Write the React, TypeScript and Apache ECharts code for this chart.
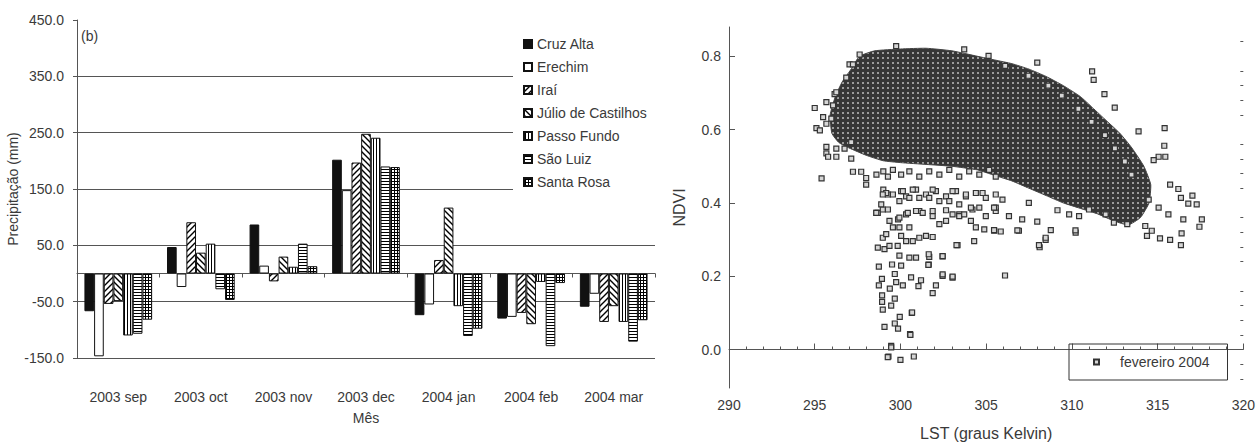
import React, { useEffect, useRef } from "react";
import * as echarts from "echarts";

// ---------- Left chart data (precipitation anomaly, mm) ----------
const months = ["2003 sep", "2003 oct", "2003 nov", "2003 dec", "2004 jan", "2004 feb", "2004 mar"];
const stations = ["Cruz Alta", "Erechim", "Iraí", "Júlio de Castilhos", "Passo Fundo", "São Luiz", "Santa Rosa"];
const cruzAlta = [-67, 47, 87, 202, -74, -80, -59];
const erechim = [-147, -24, 14, 148, -55, -77, -36];
const irai = [-54, 91, -14, 197, 24, -70, -86];
const julioCastilhos = [-49, 37, 30, 248, 117, -90, -58];
const passoFundo = [-110, 53, 12, 241, -58, -15, -86];
const saoLuiz = [-107, -28, 53, 190, -111, -129, -121];
const santaRosa = [-82, -47, 13, 189, -98, -17, -83];

// ---------- Right chart data (LST vs NDVI, fevereiro 2004) ----------
const scatterName = "fevereiro 2004";
const ndviMajorTicks = [0, 0.2, 0.4, 0.6, 0.8];
const ndviMinorTicks = [-0.08, -0.04, 0.04, 0.08, 0.12, 0.16, 0.24, 0.28, 0.32, 0.36, 0.44, 0.48, 0.52, 0.56, 0.64, 0.68, 0.72, 0.76, 0.84];
// outline of the dense, saturated part of the point cloud
const denseCloudOutline = [
  [296.0, 0.59], [295.9, 0.64], [296.2, 0.69], [296.6, 0.73], [297.2, 0.77], [297.6, 0.80], [298.5, 0.815],
  [300.0, 0.82], [301.5, 0.822], [303.0, 0.815], [304.5, 0.80], [305.5, 0.79], [306.5, 0.78], [307.5, 0.765],
  [308.5, 0.745], [309.5, 0.72], [310.5, 0.69], [311.2, 0.66], [312.0, 0.625], [312.8, 0.59], [313.5, 0.55],
  [314.2, 0.50], [314.6, 0.45], [314.5, 0.40], [314.0, 0.36], [313.3, 0.34], [312.5, 0.35], [311.5, 0.37],
  [310.5, 0.385], [309.5, 0.40], [308.5, 0.42], [307.5, 0.44], [306.5, 0.46], [305.5, 0.475], [304.5, 0.49],
  [303.0, 0.50], [301.5, 0.505], [300.0, 0.51], [299.0, 0.515], [298.0, 0.53], [297.0, 0.55], [296.4, 0.565],
];
const cloudEdgePoints = [
  [297.62, 0.805], [297.23, 0.778], [296.26, 0.702], [296.07, 0.666], [295.97, 0.63], [305.14, 0.801], [306.11, 0.774],
  [307.47, 0.747], [308.63, 0.72], [309.41, 0.693], [310.38, 0.657], [311.15, 0.621], [311.93, 0.585], [312.51, 0.549],
  [313.09, 0.513], [313.48, 0.477],
];
const bandPoints = [
  [298.0, 0.45], [298.6, 0.477], [299.0, 0.486], [299.27, 0.472], [299.56, 0.49], [300.04, 0.477], [300.52, 0.486],
  [301.1, 0.472], [301.68, 0.486], [302.27, 0.477], [302.85, 0.49], [303.43, 0.472], [304.01, 0.486], [304.6, 0.477],
  [305.17, 0.49], [305.56, 0.472], [299.0, 0.436], [299.27, 0.423], [300.04, 0.432], [300.33, 0.418], [300.91, 0.436],
  [301.49, 0.423], [302.07, 0.432], [302.66, 0.418], [303.24, 0.432], [303.82, 0.418], [304.4, 0.427], [304.98, 0.414],
  [305.56, 0.423], [298.6, 0.373], [299.27, 0.382], [299.86, 0.355], [300.33, 0.369], [301.1, 0.378], [301.88, 0.364],
  [302.66, 0.38], [303.43, 0.369], [304.2, 0.382], [304.98, 0.364], [305.56, 0.378],
];
const tailPoints = [
  [298.68, 0.373], [298.97, 0.382], [298.88, 0.396], [299.17, 0.427], [298.97, 0.305], [298.68, 0.278], [298.74, 0.226],
  [298.92, 0.193], [298.74, 0.175], [298.93, 0.148], [298.93, 0.13], [298.97, 0.109], [299.07, 0.062], [299.46, 0.01],
  [299.3, -0.019], [300.0, -0.028], [300.78, -0.019], [300.56, 0.042], [300.66, 0.1], [299.96, 0.089], [299.67, 0.071],
  [299.86, 0.057], [299.46, 0.12], [299.67, 0.139], [299.38, 0.166], [299.75, 0.184], [300.14, 0.175], [299.67, 0.206],
  [300.04, 0.229], [299.51, 0.232], [300.62, 0.197], [301.2, 0.189], [301.05, 0.173], [301.88, 0.154], [302.07, 0.175],
  [302.46, 0.201], [303.04, 0.196], [301.65, 0.232], [300.91, 0.251], [300.52, 0.251], [299.94, 0.256], [301.68, 0.253],
  [302.46, 0.254], [303.33, 0.285], [304.3, 0.296], [299.07, 0.274], [299.36, 0.283], [299.84, 0.283], [300.33, 0.296],
  [300.72, 0.296], [301.1, 0.305], [301.49, 0.31], [301.88, 0.307], [300.04, 0.31], [299.17, 0.315], [299.56, 0.333],
  [299.94, 0.333], [300.52, 0.333], [299.36, 0.351], [299.94, 0.36], [300.43, 0.373], [300.91, 0.378], [301.3, 0.373],
  [301.88, 0.378], [302.27, 0.342], [302.66, 0.351], [303.04, 0.369], [303.43, 0.364], [303.72, 0.369], [304.11, 0.351],
  [304.4, 0.333], [304.89, 0.328], [305.47, 0.324], [304.6, 0.387], [304.11, 0.387], [303.43, 0.396], [302.85, 0.405],
  [302.27, 0.405], [301.68, 0.414], [301.1, 0.414], [300.52, 0.414], [299.94, 0.405], [299.56, 0.423], [300.14, 0.432],
  [300.72, 0.436], [301.88, 0.436], [303.04, 0.432], [303.82, 0.423], [304.79, 0.427], [305.56, 0.387], [298.97, 0.423],
  [298.59, 0.373], [306.1, 0.202], [303.04, 0.199], [302.46, 0.205], [302.46, 0.255], [303.27, 0.285],
  [301.65, 0.26], [301.63, 0.231], [300.68, 0.101], [300.58, 0.04], [299.26, -0.021], [299.46, 0.006],
];
const leftEdgePoints = [
  [295.4, 0.467], [295.0, 0.659], [295.1, 0.604], [295.3, 0.598], [295.68, 0.553], [295.68, 0.535], [295.78, 0.526],
  [296.26, 0.526], [296.26, 0.548], [296.74, 0.548], [297.13, 0.521], [297.23, 0.485], [297.71, 0.485], [298.0, 0.468],
  [295.68, 0.675], [295.49, 0.634], [295.68, 0.616], [296.16, 0.697], [297.03, 0.778], [296.84, 0.742], [303.72, 0.819],
  [299.75, 0.828], [297.13, 0.566],
];
const rightEdgePoints = [
  [307.98, 0.783], [311.18, 0.759], [311.27, 0.736], [311.9, 0.697], [312.5, 0.66], [315.41, 0.604], [313.89, 0.595],
  [315.39, 0.556], [315.45, 0.526], [315.06, 0.526], [314.77, 0.517], [315.73, 0.45], [316.21, 0.438], [317.03, 0.42],
  [317.28, 0.396], [316.79, 0.398], [316.36, 0.414], [317.58, 0.355], [317.44, 0.335], [316.5, 0.355], [316.4, 0.317],
  [316.36, 0.285], [315.73, 0.299], [315.14, 0.303], [314.66, 0.324], [314.38, 0.31], [314.28, 0.337], [315.63, 0.369],
  [315.06, 0.387], [314.48, 0.409], [310.22, 0.319], [308.77, 0.326], [308.47, 0.299], [308.12, 0.279], [307.98, 0.349],
  [306.91, 0.324], [305.85, 0.322], [305.46, 0.326], [306.33, 0.364], [307.1, 0.355], [305.95, 0.409], [305.46, 0.387],
  [309.16, 0.38], [309.84, 0.369], [310.42, 0.364], [311.0, 0.382], [311.97, 0.369], [312.45, 0.346], [313.23, 0.342],
  [307.49, 0.4], [308.08, 0.285], [308.47, 0.305], [310.21, 0.325], [306.82, 0.325],
];

const FONT = "'Liberation Sans', Arial, sans-serif";
const TXT = "#3a3a3a";
const AX = "#555";

function makePattern(w: number, h: number, bg: string, draw: (g: CanvasRenderingContext2D) => void) {
  const c = document.createElement("canvas");
  c.width = w;
  c.height = h;
  const g = c.getContext("2d") as CanvasRenderingContext2D;
  g.fillStyle = bg;
  g.fillRect(0, 0, w, h);
  g.fillStyle = "#000";
  g.strokeStyle = "#000";
  draw(g);
  return { image: c, repeat: "repeat" };
}

function buildOption() {
  const slash = makePattern(6, 6, "#fff", (g) => {
    g.lineWidth = 1.4;
    g.beginPath();
    g.moveTo(0, 6); g.lineTo(6, 0);
    g.moveTo(-3, 3); g.lineTo(3, -3);
    g.moveTo(3, 9); g.lineTo(9, 3);
    g.stroke();
  });
  const backslash = makePattern(6, 6, "#fff", (g) => {
    g.lineWidth = 1.4;
    g.beginPath();
    g.moveTo(0, 0); g.lineTo(6, 6);
    g.moveTo(-3, 3); g.lineTo(3, 9);
    g.moveTo(3, -3); g.lineTo(9, 3);
    g.stroke();
  });
  const vertical = makePattern(3, 3, "#fff", (g) => g.fillRect(1, 0, 1, 3));
  const horizontal = makePattern(3, 3, "#fff", (g) => g.fillRect(0, 1, 3, 1));
  const grid = makePattern(3, 3, "#fff", (g) => { g.fillRect(0, 1, 3, 1); g.fillRect(1, 0, 1, 3); });
  const cloud = makePattern(5, 5, "#363636", (g) => {
    g.fillStyle = "#9c9c9c";
    g.fillRect(2, 2, 2, 2);
  });

  const seriesValues = [cruzAlta, erechim, irai, julioCastilhos, passoFundo, saoLuiz, santaRosa];
  const fills: any[] = ["#111", "#fff", slash, backslash, vertical, horizontal, grid];

  const bars = stations.map((name, i) => ({
    name,
    type: "bar",
    xAxisIndex: 0,
    yAxisIndex: 0,
    data: seriesValues[i],
    barGap: "0%",
    barCategoryGap: "18%",
    itemStyle: { color: fills[i], borderColor: "#111", borderWidth: 1 },
  }));

  const scatterData = [...bandPoints, ...tailPoints, ...leftEdgePoints, ...rightEdgePoints, ...cloudEdgePoints];

  return {
    animation: false,
    backgroundColor: "#fff",
    textStyle: { fontFamily: FONT, color: TXT },
    title: {
      text: "(b)",
      left: 81,
      top: 29,
      padding: 0,
      textStyle: { fontFamily: FONT, fontSize: 14, fontWeight: "normal", color: TXT },
    },
    legend: [
      {
        data: stations,
        orient: "vertical",
        left: 513,
        top: 30,
        padding: [7, 16, 7, 10],
        backgroundColor: "#fff",
        itemWidth: 8,
        itemHeight: 8,
        itemGap: 9,
        icon: "rect",
        selectedMode: false,
        textStyle: { fontFamily: FONT, fontSize: 14, color: TXT },
        z: 10,
      },
      {
        data: [scatterName],
        left: 1069,
        top: 344,
        padding: [11, 18, 11, 24],
        borderColor: "#333",
        borderWidth: 1,
        itemWidth: 5,
        itemHeight: 5,
        icon: "rect",
        selectedMode: false,
        textStyle: { fontFamily: FONT, fontSize: 14, color: TXT, padding: [0, 0, 0, 16] },
      },
    ],
    grid: [
      { left: 77, right: 603, top: 20, bottom: 88 },
      { left: 729, right: 13, top: 27, bottom: 54 },
    ],
    xAxis: [
      {
        type: "category",
        gridIndex: 0,
        data: months,
        axisLine: { show: true, onZero: true, lineStyle: { color: AX, width: 1 } },
        axisTick: { show: true, length: 4, lineStyle: { color: AX } },
        axisLabel: { show: false },
        splitLine: { show: false },
      },
      {
        type: "category",
        gridIndex: 0,
        data: months,
        position: "bottom",
        axisLine: { show: false, onZero: false },
        axisTick: { show: false },
        axisLabel: { margin: 32, fontSize: 14, color: TXT, fontFamily: FONT },
        name: "Mês",
        nameLocation: "middle",
        nameGap: 53,
        nameTextStyle: { fontSize: 14, color: TXT, fontFamily: FONT },
      },
      {
        type: "value",
        gridIndex: 1,
        min: 290,
        max: 320,
        interval: 5,
        axisLine: { show: true, lineStyle: { color: AX, width: 1 } },
        axisTick: { show: true, inside: true, length: 6, lineStyle: { color: AX } },
        minorTick: { show: true, splitNumber: 5, length: 3, lineStyle: { color: AX } },
        axisLabel: { margin: 10, fontSize: 14, color: TXT, fontFamily: FONT },
        splitLine: { show: false },
        name: "LST (graus Kelvin)",
        nameLocation: "middle",
        nameGap: 37,
        nameTextStyle: { fontSize: 16, color: TXT, fontFamily: FONT },
      },
    ],
    yAxis: [
      {
        type: "value",
        gridIndex: 0,
        min: -150,
        max: 450,
        interval: 100,
        axisLine: { show: true, lineStyle: { color: AX, width: 1 } },
        axisTick: { show: true, length: 4, lineStyle: { color: AX } },
        axisLabel: { margin: 13, fontSize: 14, color: TXT, fontFamily: FONT, formatter: (v: number) => v.toFixed(1) },
        splitLine: { show: true, showMaxLine: false, lineStyle: { color: AX, width: 1 } },
        name: "Precipitação (mm)",
        nameLocation: "middle",
        nameGap: 52,
        nameTextStyle: { fontSize: 14, color: TXT, fontFamily: FONT },
      },
      {
        type: "value",
        gridIndex: 1,
        min: -0.105,
        max: 0.88,
        axisLine: { show: true, lineStyle: { color: AX, width: 1 } },
        axisTick: { show: true, inside: true, length: 6, customValues: ndviMajorTicks, lineStyle: { color: AX } },
        axisLabel: {
          margin: 8,
          fontSize: 14,
          color: TXT,
          fontFamily: FONT,
          customValues: ndviMajorTicks,
          formatter: (v: number) => v.toFixed(1),
        },
        splitLine: { show: false },
        name: "NDVI",
        nameLocation: "middle",
        nameGap: 42,
        nameTextStyle: { fontSize: 16, color: TXT, fontFamily: FONT },
      },
      {
        type: "value",
        gridIndex: 1,
        min: -0.105,
        max: 0.88,
        axisLine: { show: false },
        axisTick: { show: true, inside: true, length: 3, customValues: ndviMinorTicks, lineStyle: { color: AX } },
        axisLabel: { show: false },
        splitLine: { show: false },
      },
    ],
    series: [
      ...bars,
      {
        type: "custom",
        name: "cloud",
        xAxisIndex: 2,
        yAxisIndex: 1,
        data: denseCloudOutline,
        encode: { x: 0, y: 1 },
        silent: true,
        renderItem: (params: any, api: any) => {
          if (params.dataIndex !== 0) return null;
          const pts = denseCloudOutline.map((p) => api.coord(p));
          return {
            type: "polygon",
            shape: { points: pts, smooth: 0.15 },
            style: { fill: cloud, stroke: "#444", lineWidth: 1 },
          };
        },
      },
      {
        name: scatterName,
        type: "scatter",
        xAxisIndex: 2,
        yAxisIndex: 1,
        data: scatterData,
        symbol: "rect",
        symbolSize: 5,
        itemStyle: { color: "#d6d6d6", borderColor: "#333", borderWidth: 1.2, opacity: 1 },
      },
    ],
  };
}

export default function App() {
  const ref = useRef<HTMLDivElement>(null);
  useEffect(() => {
    if (!ref.current) return;
    const chart = echarts.init(ref.current, null, { renderer: "svg" });
    chart.setOption(buildOption() as any);
    return () => chart.dispose();
  }, []);
  return (
    <div
      ref={ref}
      style={{ position: "fixed", left: 0, top: 0, width: 1258, height: 446, background: "#fff" }}
    />
  );
}
